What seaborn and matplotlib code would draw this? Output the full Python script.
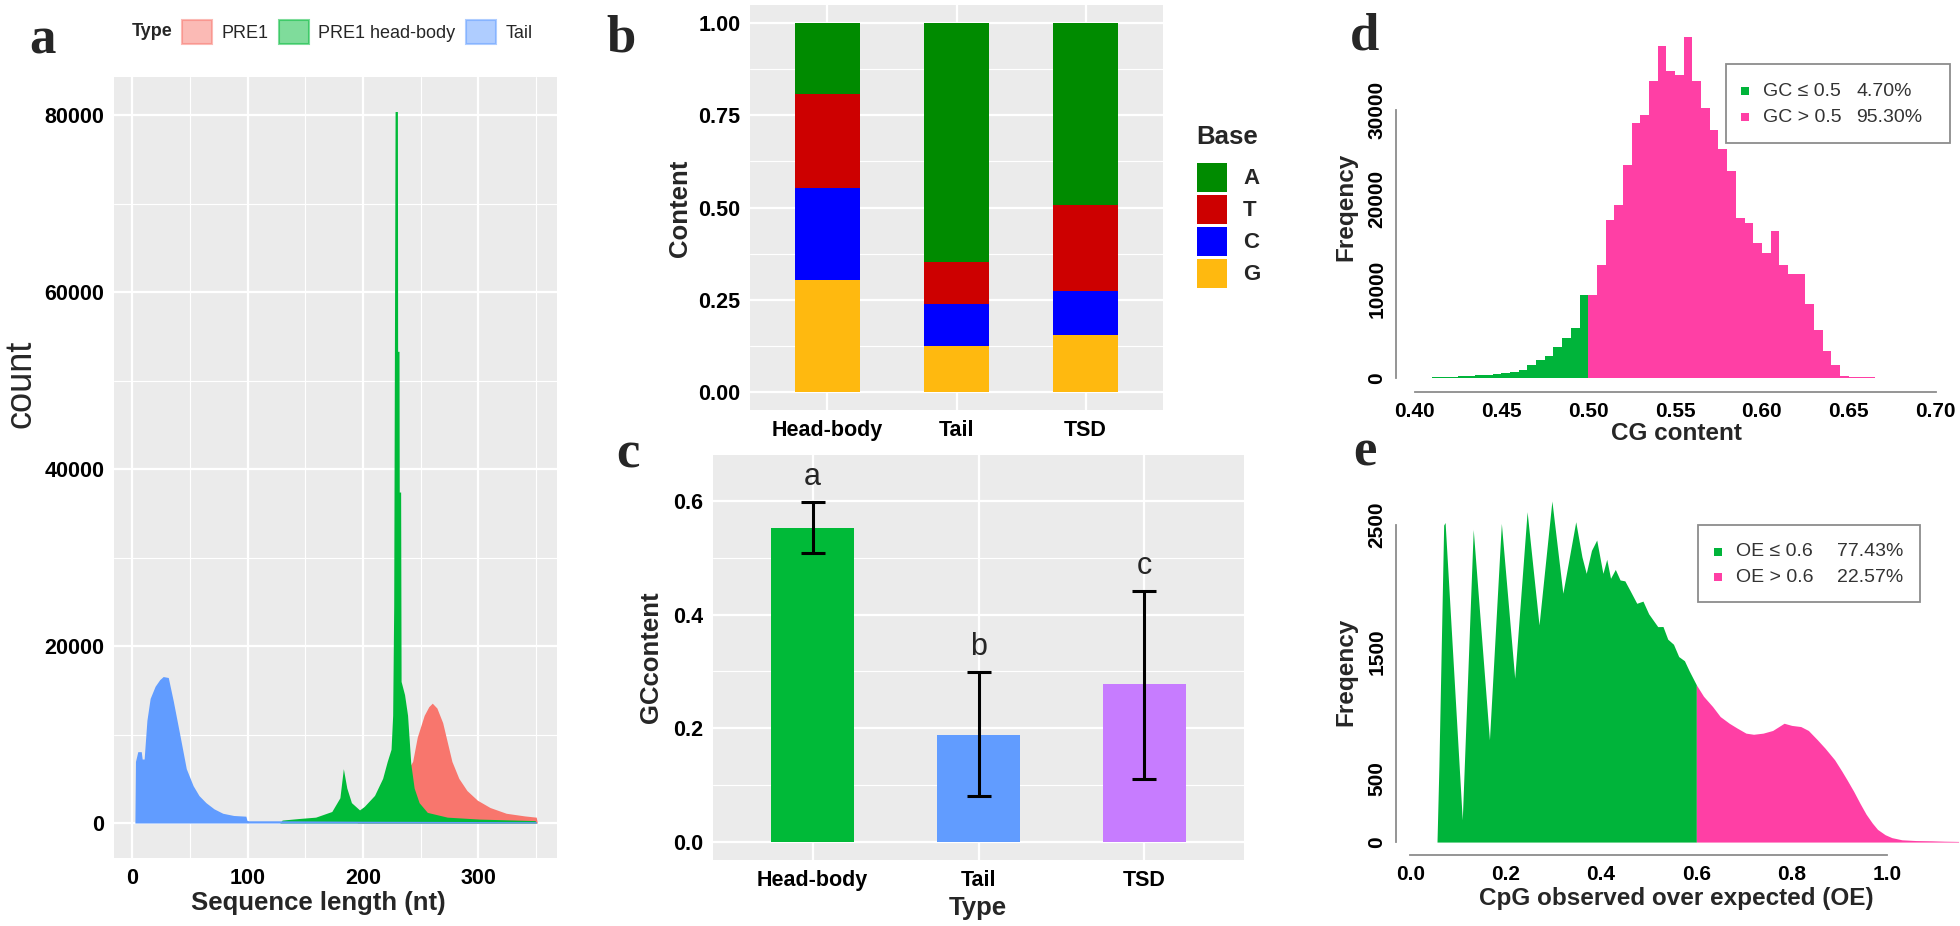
import numpy as np
import pandas as pd
import matplotlib
matplotlib.use('Agg')
import matplotlib.pyplot as plt
from matplotlib.patches import Patch, Rectangle
import seaborn as sns

# ---- a: sequence length distribution (outline)
tail_len = [2.5, 3, 5, 8, 8.8, 10.5, 12.9, 15.7, 20, 24, 27, 31.4, 35.7, 41.4, 47, 52.9,
            58, 64, 71, 78.6, 88, 98.6, 99.5, 101, 130, 200, 350, 350.5]
tail_cnt = [0, 6960, 8060, 8060, 7230, 7230, 11600, 14080, 15450, 16200, 16550, 16440, 13810,
            9970, 6140, 4220, 3100, 2300, 1600, 1100, 850, 770, 300, 250, 250, 200, 150, 0]
hb_len = [128, 130, 144, 159, 173, 180, 183, 186, 190, 197, 201, 210, 217, 221, 224.3, 225.7,
          226.6, 227.8, 229.8, 230.0, 231.2, 231.4, 232.6, 233.0, 236.0, 238.6, 241.4, 244.3,
          248.6, 255.7, 273, 301, 349, 350]
hb_cnt = [0, 330, 500, 660, 1300, 2850, 6140, 3950, 2300, 1480, 1860, 3120, 5040, 6960, 8330,
          12170, 24500, 80400, 80400, 53300, 53300, 37400, 37400, 16000, 14500, 12170, 6690,
          3950, 2300, 1200, 660, 440, 270, 0]
pre1_len = [195, 200, 205, 215, 225, 235, 243, 247, 253, 257, 260, 264, 269, 273, 277, 283,
            290, 299, 310, 324, 340, 350, 351]
pre1_cnt = [0, 1700, 2100, 2800, 3800, 5200, 6960, 9700, 12170, 13150, 13540, 12990, 11340,
            9150, 6960, 5040, 3670, 2580, 1750, 1100, 800, 660, 0]
a_types = ['PRE1', 'PRE1 head-body', 'Tail']
a_colors = ['#F8766D', '#00BA38', '#619CFF']

# ---- b: base composition
types = ['Head-body', 'Tail', 'TSD']
base_A = [0.192, 0.648, 0.493]
base_T = [0.254, 0.115, 0.233]
base_C = [0.251, 0.113, 0.121]
base_G = [0.303, 0.124, 0.153]
bases = ['A', 'T', 'C', 'G']
base_colors = {'A': '#008B00', 'T': '#CD0000', 'C': '#0000FF', 'G': '#FFB90F'}

# ---- c: GC content
gc_mean = [0.553, 0.188, 0.277]
gc_lo = [0.508, 0.081, 0.111]
gc_hi = [0.598, 0.299, 0.442]
gc_letters = ['a', 'b', 'c']
c_colors = ['#00BA38', '#619CFF', '#C77CFF']

# ---- d: CG content histogram, bins of 0.005 from 0.40
gc_counts = [30, 50, 70, 100, 130, 170, 220, 280, 350, 450,
             550, 700, 900, 1400, 2000, 2500, 3500, 4500, 5600, 9300,
             9300, 12700, 17700, 19400, 23900, 28500, 29400, 33200, 37200, 34400,
             33900, 38200, 33300, 30200, 27800, 25600, 23200, 17900, 17400, 15100,
             14000, 16500, 12600, 11600, 11600, 8300, 5400, 3000, 1400, 260,
             150, 100, 70, 50, 40, 30, 20, 15, 10, 5]

# ---- e: CpG O/E histogram outline
oe_x = [0.056, 0.060, 0.070, 0.073, 0.109, 0.132, 0.166, 0.191, 0.219, 0.245, 0.270, 0.297,
        0.320, 0.347, 0.360, 0.369, 0.380, 0.391, 0.404, 0.412, 0.420, 0.430, 0.440, 0.450,
        0.460, 0.475, 0.488, 0.500, 0.519, 0.530, 0.540, 0.552, 0.563, 0.575, 0.585, 0.600,
        0.615, 0.634, 0.650, 0.669, 0.685, 0.704, 0.720, 0.740, 0.760,
        0.784, 0.800, 0.819, 0.835, 0.854, 0.870, 0.890, 0.905, 0.916, 0.930, 0.943, 0.956,
        0.969, 0.980, 0.996, 1.010, 1.031, 1.060, 1.093, 1.120, 1.150]
oe_y = [0, 600, 2500, 2520, 175, 2465, 806, 2513, 1292, 2605, 1712, 2690,
        1962, 2526, 2250, 2119, 2300, 2382, 2119, 2230, 2080, 2150, 2067, 2060,
        1990, 1883, 1900, 1800, 1699, 1700, 1600, 1560, 1463, 1430, 1350, 1240,
        1150, 1069, 990, 937, 900, 859, 850, 859, 880,
        937, 920, 911, 880, 806, 740, 649, 560, 491, 400, 307, 220,
        150, 100, 58, 35, 18, 12, 10, 7, 5]

GREEN, PINK = '#00B43A', '#FF3FA5'

sns.set_theme(style='darkgrid')
plt.rcParams['font.family'] = ['Liberation Sans', 'DejaVu Sans']

W, H = 1960, 926
fig = plt.figure(figsize=(W / 100, H / 100), dpi=100)
fig.patch.set_facecolor('white')

def box(l, t, r, b):
    return [l / W, 1 - b / H, (r - l) / W, (b - t) / H]

def ftext(x, y, s, **kw):
    kw.setdefault('ha', 'center'); kw.setdefault('va', 'center')
    fig.text(x / W, 1 - y / H, s, **kw)

def frect(l, t, r, b, **kw):
    fig.patches.append(Rectangle((l / W, 1 - b / H), (r - l) / W, (b - t) / H,
                                 transform=fig.transFigure, figure=fig, **kw))

def gg(ax, ymaj, ymin, xmin=None):
    ax.set_facecolor('#EBEBEB')
    for s in ax.spines.values():
        s.set_visible(False)
    ax.set_yticks(ymaj)
    ax.set_yticks(ymin, minor=True)
    if xmin is not None:
        ax.set_xticks(xmin, minor=True)
    ax.grid(True, which='major', color='white', lw=1.6)
    ax.grid(True, which='minor', color='white', lw=0.8)
    ax.tick_params(which='major', length=4, width=1, color='#333333', labelsize=15.5, pad=3,
                   labelcolor='black')
    ax.tick_params(which='minor', length=0)
    ax.set_axisbelow(True)
    for t in ax.get_xticklabels() + ax.get_yticklabels():
        t.set_fontweight('bold')
    ax.set_xlabel(''); ax.set_ylabel('')

def rstyle(ax, xb, yb, xt, yt, xtl, ytl):
    ax.set_facecolor('white')
    ax.grid(False)
    for s in ['top', 'right']:
        ax.spines[s].set_visible(False)
    for s in ['left', 'bottom']:
        ax.spines[s].set_color('#8c8c8c'); ax.spines[s].set_linewidth(1.3)
    ax.spines['left'].set_bounds(*yb)
    ax.spines['bottom'].set_bounds(*xb)
    ax.set_xticks(xt, xtl)
    ax.set_yticks(yt, ytl)
    ax.tick_params(length=5, width=1.3, color='#8c8c8c', labelsize=15, pad=2, labelcolor='black')
    ax.tick_params(axis='y', labelrotation=90)
    for t in ax.get_yticklabels():
        t.set_va('center')
    for t in ax.get_xticklabels() + ax.get_yticklabels():
        t.set_fontweight('bold')
    ax.set_xlabel(''); ax.set_ylabel('')

# ================= a
ax_a = fig.add_axes(box(114, 77, 557, 858))
ax_a.fill_between(pre1_len, pre1_cnt, color=a_colors[0], lw=0)
ax_a.fill_between(hb_len, hb_cnt, color=a_colors[1], lw=0)
ax_a.fill_between(tail_len, tail_cnt, color=a_colors[2], lw=0)
ax_a.set_xlim(-15.6, 368)
ax_a.set_ylim(-3955, 84300)
ax_a.set_xticks([0, 100, 200, 300])
gg(ax_a, [0, 20000, 40000, 60000, 80000], [10000, 30000, 50000, 70000], [50, 150, 250, 350])
ftext(21, 384, 'count', rotation=90, fontsize=26)
ftext(318, 903, 'Sequence length (nt)', fontsize=18.5, fontweight='bold')
ftext(132, 32, 'Type', ha='left', fontsize=13, fontweight='bold')
a_handles = [Patch(facecolor=c, edgecolor=c, alpha=0.5, lw=1.5) for c in a_colors]
fig.legend(a_handles, a_types, loc='center left', bbox_to_anchor=(182 / W, 1 - 32 / H),
           ncol=3, frameon=False, fontsize=13, handlelength=1.67, handleheight=1.75,
           handletextpad=0.5, columnspacing=0.6, borderpad=0, borderaxespad=0)

# ================= b
ax_b = fig.add_axes(box(750, 5, 1163, 410))
comp = pd.DataFrame({'G': base_G, 'C': base_C, 'T': base_T, 'A': base_A}, index=types)
cum = comp.cumsum(axis=1)
for b in bases:
    sns.barplot(x=types, y=cum[b].values, color=base_colors[b], width=0.5, saturation=1,
                linewidth=0, errorbar=None, ax=ax_b)
ax_b.set_xlim(-0.6, 2.6)
ax_b.set_ylim(-0.05, 1.05)
gg(ax_b, [0, 0.25, 0.5, 0.75, 1.0], [0.125, 0.375, 0.625, 0.875])
ax_b.set_yticklabels(['0.00', '0.25', '0.50', '0.75', '1.00'], fontweight='bold')
ftext(680, 208, 'Content', rotation=90, fontsize=18.5, fontweight='bold')
# legend "Base"
ftext(1196, 137, 'Base', ha='left', fontsize=18.5, fontweight='bold')
for i, k in enumerate(bases):
    top = 163 + 32 * i
    frect(1197, top, 1227, top + 29, facecolor=base_colors[k], lw=0)
    ftext(1243, top + 15, k, ha='left', fontsize=16, fontweight='bold')

# ================= c
ax_c = fig.add_axes(box(713, 455, 1244, 860))
sns.barplot(x=types, y=gc_mean, hue=types, palette=c_colors, width=0.5, saturation=1,
            linewidth=0, errorbar=None, legend=False, ax=ax_c)
pos = np.arange(len(types))
ax_c.errorbar(pos, gc_mean, yerr=[np.subtract(gc_mean, gc_lo), np.subtract(gc_hi, gc_mean)],
              fmt='none', ecolor='black', elinewidth=2.2, capsize=8.6, capthick=2.2)
for p, hi, lab in zip(pos, gc_hi, gc_letters):
    ax_c.text(p, hi + 0.044, lab, ha='center', va='center', fontsize=22)
ax_c.set_xlim(-0.6, 2.6)
ax_c.set_ylim(-0.032, 0.681)
gg(ax_c, [0, 0.2, 0.4, 0.6], [0.1, 0.3, 0.5])
ftext(651, 657, 'GCcontent', rotation=90, fontsize=18.5, fontweight='bold')
ftext(978, 908, 'Type', fontsize=18.5, fontweight='bold')

# ================= d
ax_d = fig.add_axes(box(1396, 23, 1956, 392))
bin_left = np.round(np.arange(0.40, 0.6999, 0.005), 3)
df_d = pd.DataFrame({'gc': bin_left + 0.0025, 'n': gc_counts})
df_d['grp'] = np.where(df_d['gc'] < 0.5, 'low', 'high')
sns.histplot(data=df_d, x='gc', weights='n', hue='grp', binwidth=0.005, binrange=(0.40, 0.70),
             palette={'low': GREEN, 'high': PINK}, alpha=1, linewidth=0, legend=False, ax=ax_d)
ax_d.set_xlim(0.3893, 0.7118)
ax_d.set_ylim(-1568, 39750)
d_xt = [0.40, 0.45, 0.50, 0.55, 0.60, 0.65, 0.70]
rstyle(ax_d, (0.40, 0.70), (0, 30000), d_xt, [0, 10000, 20000, 30000],
       ['%.2f' % v for v in d_xt], ['0', '10000', '20000', '30000'])
ftext(1346, 207, 'Freqency', rotation=90, fontsize=17.5, fontweight='bold')
ftext(1676, 434, 'CG content', fontsize=17.5, fontweight='bold')
frect(1726, 64, 1950, 143, facecolor='white', edgecolor='#8c8c8c', lw=1.3)
frect(1741, 87, 1749, 95, facecolor=GREEN, lw=0)
frect(1741, 113, 1749, 121, facecolor=PINK, lw=0)
ftext(1763, 91, 'GC ≤ 0.5', ha='left', fontsize=14, color='#333333')
ftext(1856, 91, '4.70%', ha='left', fontsize=14, color='#333333')
ftext(1763, 117, 'GC > 0.5', ha='left', fontsize=14, color='#333333')
ftext(1856, 117, '95.30%', ha='left', fontsize=14, color='#333333')

# ================= e
ax_e = fig.add_axes(box(1396, 486, 1960, 855))
ox, oy = np.array(oe_x), np.array(oe_y)
lo = ox <= 0.6
hi_m = ox >= 0.6
ax_e.fill_between(ox[lo], oy[lo], color=GREEN, lw=0)
ax_e.fill_between(ox[hi_m], oy[hi_m], color=PINK, lw=0)
ax_e.set_xlim(-0.030, 1.153)
ax_e.set_ylim(-102, 2808)
e_xt = [0.0, 0.2, 0.4, 0.6, 0.8, 1.0]
rstyle(ax_e, (0.0, 1.0), (0, 2500), e_xt, [0, 500, 1000, 1500, 2000, 2500],
       ['%.1f' % v for v in e_xt], ['0', '500', '', '1500', '', '2500'])
ftext(1346, 672, 'Freqency', rotation=90, fontsize=17.5, fontweight='bold')
ftext(1676, 898, 'CpG observed over expected (OE)', fontsize=17.5, fontweight='bold')
frect(1698, 525, 1920, 602, facecolor='white', edgecolor='#8c8c8c', lw=1.3)
frect(1714, 548, 1722, 556, facecolor=GREEN, lw=0)
frect(1714, 573, 1722, 581, facecolor=PINK, lw=0)
ftext(1736, 552, 'OE ≤ 0.6', ha='left', fontsize=14, color='#333333')
ftext(1837, 552, '77.43%', ha='left', fontsize=14, color='#333333')
ftext(1736, 577, 'OE > 0.6', ha='left', fontsize=14, color='#333333')
ftext(1837, 577, '22.57%', ha='left', fontsize=14, color='#333333')

# ---- panel letters
for x, y, s in [(42, 40, 'a'), (621, 38, 'b'), (628, 455, 'c'), (1365, 37, 'd'), (1365, 452, 'e')]:
    ftext(x, y, s, fontsize=38, fontweight='bold', family=['Liberation Serif', 'DejaVu Serif'])

fig.savefig('out.png', dpi=100)
